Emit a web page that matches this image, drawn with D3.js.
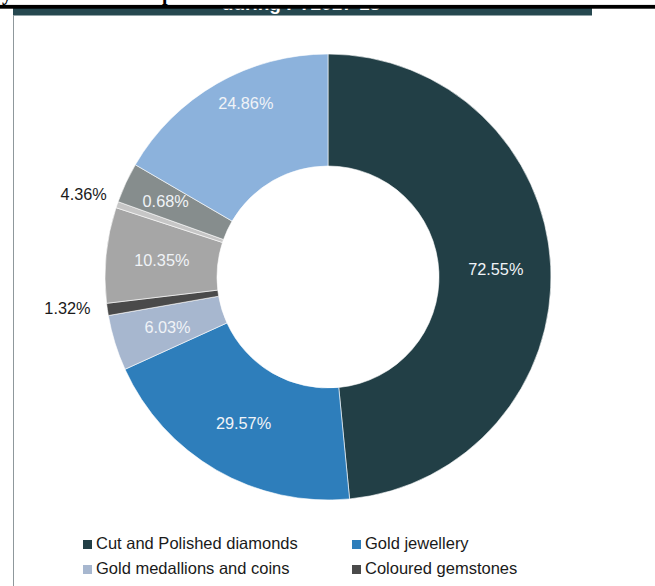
<!DOCTYPE html>
<html>
<head>
<meta charset="utf-8">
<script src="https://cdn.jsdelivr.net/npm/d3@7"></script>
<style>
  body { margin: 0; background: #fff; }
  svg { display: block; font-family: "Liberation Sans", Arial, sans-serif; }
</style>
</head>
<body>
<div id="chart"></div>
<script>
// slice values, clockwise from 12 o'clock
var values = [72.55, 29.57, 6.03, 1.32, 10.35, 0.68, 4.36, 24.86];
// data label text as printed on the chart, one per slice
var labels = ["72.55%", "29.57%", "6.03%", "1.32%", "10.35%", "4.36%", "0.68%", "24.86%"];
var colors = ["#223f46", "#2e7ebb", "#a7b7cf", "#4a4a4a", "#a6a6a6", "#c6c6c6", "#868d8d", "#8cb2dc"];
// legend (only the first rows are visible in the picture)
var categories = ["Cut and Polished diamonds", "Gold jewellery", "Gold medallions and coins", "Coloured gemstones"];

var svgWidth = 655;
var svgHeight = 586;

var svg = d3.select("#chart")
  .append("svg")
  .attr("width", svgWidth)
  .attr("height", svgHeight);

// header remains (cut off)
svg.append("rect")
  .attr("x", 13).attr("y", 8)
  .attr("width", 579).attr("height", 7.5)
  .attr("fill", "#264850");

svg.append("text")
  .attr("x", 301).attr("y", 9.5)
  .attr("text-anchor", "middle")
  .attr("font-size", 19)
  .attr("font-weight", "bold")
  .attr("fill", "#fff")
  .text("during FY2017-18");

svg.append("rect")
  .attr("x", 0).attr("y", 4.7)
  .attr("width", svgWidth).attr("height", 4)
  .attr("fill", "#000");

svg.append("rect")
  .attr("x", 0).attr("y", 0)
  .attr("width", svgWidth).attr("height", 4.7)
  .attr("fill", "#fff");

var serif = svg.append("g")
  .attr("font-family", "'Liberation Serif', 'Times New Roman', serif")
  .attr("font-weight", "bold")
  .attr("font-size", 20)
  .attr("fill", "#000");
serif.append("text").attr("x", 2).attr("y", -0.5).text("y");
serif.append("text").attr("x", 162).attr("y", -0.5).text("p");

// left frame line
svg.append("line")
  .attr("x1", 13.5).attr("x2", 13.5)
  .attr("y1", 15).attr("y2", svgHeight)
  .attr("stroke", "#8f989c")
  .attr("stroke-width", 1);

// donut
var cx = 328, cy = 277;
var outerR = 223, innerR = 111;

var pie = d3.pie().sort(null).value(d => d);
var arc = d3.arc().innerRadius(innerR).outerRadius(outerR);
var arcs = pie(values);

var chartGroup = svg.append("g")
  .attr("transform", `translate(${cx}, ${cy})`);

chartGroup.selectAll("path")
  .data(arcs)
  .enter()
  .append("path")
  .attr("d", arc)
  .attr("fill", (d, i) => colors[i])
  .attr("stroke", "#fff")
  .attr("stroke-width", 0.6);

// labels: inside ones at centroid, small slices get outside labels
var outside = [false, false, false, true, false, true, false, false];
var nudge = [[1, 0], [-1, 2], [-1, 1], [-4, -3.5], [0, 0], [2, -6.5], [-11, -5], [1, -29]];
var outerArc = d3.arc().innerRadius(outerR + 13).outerRadius(outerR + 13);

chartGroup.selectAll(".slice-label")
  .data(arcs)
  .enter()
  .append("text")
  .attr("class", "slice-label")
  .attr("x", (d, i) => (outside[i] ? outerArc.centroid(d)[0] : arc.centroid(d)[0]) + nudge[i][0])
  .attr("y", (d, i) => (outside[i] ? outerArc.centroid(d)[1] : arc.centroid(d)[1]) + nudge[i][1])
  .attr("dy", "0.35em")
  .attr("text-anchor", (d, i) => outside[i] ? "end" : "middle")
  .attr("font-size", 16.3)
  .attr("fill", (d, i) => outside[i] ? "#1a1a1a" : "#f0f3f7")
  .text((d, i) => labels[i]);

// legend
var legend = svg.append("g");
var legendItems = legend.selectAll("g")
  .data(categories)
  .enter()
  .append("g")
  .attr("transform", (d, i) => `translate(${i % 2 === 0 ? 83 : 352}, ${540 + Math.floor(i / 2) * 25})`);

legendItems.append("rect")
  .attr("width", 9).attr("height", 9)
  .attr("fill", (d, i) => colors[i]);

legendItems.append("text")
  .attr("x", 13)
  .attr("y", 9)
  .attr("font-size", 16.5)
  .attr("fill", "#1a1a1a")
  .text(d => d);
</script>
</body>
</html>
